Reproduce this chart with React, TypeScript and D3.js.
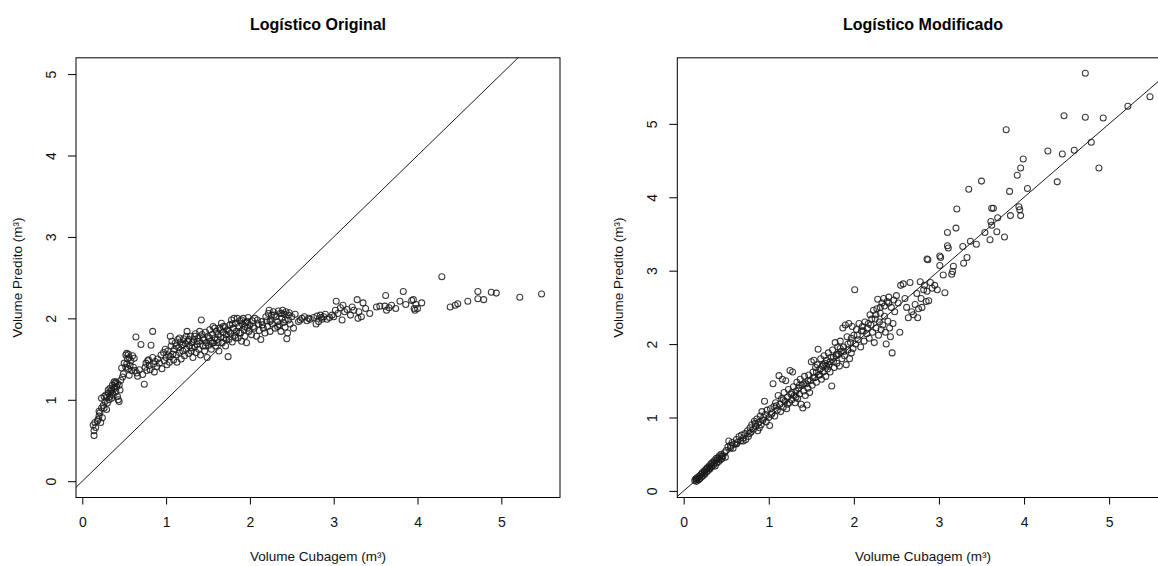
import React, { useRef, useEffect } from 'react';
import { select, scaleLinear, axisBottom, axisLeft, line } from 'd3';

// ticks dos eixos
const xTicks = [0, 1, 2, 3, 4, 5];
const yTicks = [0, 1, 2, 3, 4, 5];

const titulos = ['Logístico Original', 'Logístico Modificado'];
const xLabel = 'Volume Cubagem (m³)';
const yLabel = 'Volume Predito (m³)';

// [volume cubagem, volume predito] - modelo logistico original
const pontosOriginal: [number, number][] = [
  [0.13,0.69],[0.14,0.62],[0.14,0.56],[0.15,0.72],[0.16,0.66],[0.18,0.74],[0.19,0.76],[0.20,0.80],[0.20,0.86],[0.21,0.84],
  [0.22,0.72],[0.23,0.90],[0.23,1.02],[0.24,0.78],[0.25,0.93],[0.26,0.90],[0.26,1.04],[0.27,0.98],[0.28,1.06],[0.29,1.03],
  [0.29,0.88],[0.30,0.96],[0.31,1.08],[0.32,1.00],[0.33,1.14],[0.33,1.04],[0.34,1.10],[0.35,1.12],[0.35,1.02],[0.36,1.18],
  [0.37,1.06],[0.38,1.14],[0.39,1.20],[0.40,1.10],[0.40,1.22],[0.41,1.16],[0.42,1.04],[0.43,1.00],[0.44,1.18],[0.45,1.12],
  [0.46,1.24],[0.44,0.98],[0.47,1.39],[0.48,1.28],[0.49,1.32],[0.31,1.12],[0.36,1.08],[0.38,1.22],[0.42,1.20],
  [0.50,1.45],[0.52,1.40],[0.56,1.52],[0.59,1.36],
  [0.52,1.55],[0.53,1.57],[0.54,1.50],[0.55,1.56],[0.53,1.44],[0.55,1.38],[0.56,1.30],[0.57,1.42],[0.58,1.48],[0.60,1.54],
  [0.61,1.40],[0.62,1.51],[0.63,1.36],[0.64,1.77],[0.65,1.33],[0.66,1.29],[0.68,1.37],[0.70,1.68],[0.72,1.31],[0.74,1.19],
  [0.75,1.40],[0.76,1.45],[0.77,1.36],[0.78,1.48],[0.79,1.49],[0.80,1.42],[0.81,1.37],[0.82,1.67],[0.84,1.84],[0.84,1.52],
  [0.85,1.44],[0.86,1.34],[0.87,1.47],[0.89,1.41],[0.90,1.50],[0.92,1.45],[0.94,1.55],[0.95,1.38],
  [0.97,1.58],[0.98,1.48],[1.00,1.52],[1.01,1.43],[1.02,1.60],[1.04,1.46],[1.05,1.78],[1.05,1.53],[1.06,1.66],[1.08,1.56],
  [1.09,1.49],[1.10,1.62],[1.11,1.70],[1.12,1.55],[1.13,1.46],[1.14,1.74],[1.15,1.64],[1.16,1.58],[1.17,1.71],[1.18,1.50],
  [1.19,1.67],[1.20,1.60],[1.21,1.75],[1.22,1.54],[1.23,1.69],[1.24,1.62],[1.25,1.84],[1.26,1.72],[1.27,1.57],[1.28,1.66],
  [1.29,1.78],[1.30,1.60],[1.31,1.70],[1.32,1.52],[1.33,1.74],[1.34,1.65],[1.35,1.81],[1.36,1.58],[1.37,1.68],[1.38,1.76],
  [1.39,1.62],[1.40,1.72],[1.41,1.55],[1.42,1.98],[1.43,1.80],[1.44,1.66],[1.45,1.74],[1.46,1.60],[1.47,1.83],[1.48,1.70],
  [1.49,1.52],[0.99,1.62],[1.03,1.55],[1.07,1.72],[1.12,1.66],[1.16,1.76],[1.20,1.68],[1.24,1.78],[1.27,1.74],[1.31,1.64],
  [1.34,1.78],[1.37,1.72],[1.40,1.84],[1.44,1.76],[1.47,1.66],
  [1.50,1.78],[1.51,1.67],[1.52,1.86],[1.53,1.72],[1.54,1.62],[1.55,1.80],[1.56,1.90],[1.57,1.70],[1.58,1.76],[1.59,1.66],
  [1.60,1.84],[1.61,1.74],[1.62,1.80],[1.63,1.60],[1.64,1.88],[1.65,1.77],[1.66,1.94],[1.67,1.70],[1.68,1.83],[1.69,1.76],
  [1.70,1.90],[1.71,1.66],[1.72,1.80],[1.73,1.86],[1.74,1.53],[1.75,1.74],[1.76,1.92],[1.77,1.82],[1.78,1.98],[1.79,1.71],
  [1.80,1.88],[1.81,2.00],[1.82,1.79],[1.83,1.94],[1.84,1.84],[1.85,2.00],[1.86,1.76],[1.87,1.90],[1.88,1.97],[1.89,1.82],
  [1.90,1.72],[1.91,1.93],[1.92,2.00],[1.93,1.86],[1.94,1.78],[1.95,1.95],[1.96,1.70],[1.97,1.88],[1.98,2.01],[1.99,1.84],
  [1.52,1.76],[1.55,1.70],[1.58,1.88],[1.62,1.70],[1.65,1.86],[1.68,1.90],[1.72,1.74],[1.75,1.84],[1.79,1.93],[1.83,1.76],
  [1.87,1.82],[1.90,1.98],[1.94,1.90],[1.97,1.96],
  [2.00,1.92],[2.02,1.80],[2.03,1.97],[2.05,1.88],[2.06,2.00],[2.08,1.78],[2.10,1.93],[2.11,1.85],[2.13,1.74],[2.14,1.96],
  [2.16,1.88],[2.18,1.82],[2.20,1.97],[2.21,1.90],[2.22,2.06],[2.23,2.10],[2.24,1.84],[2.25,1.98],[2.26,2.04],[2.27,1.93],
  [2.28,2.08],[2.30,1.88],[2.31,2.02],[2.33,1.96],[2.34,2.09],[2.35,1.92],[2.36,2.06],[2.37,1.84],[2.38,2.00],[2.39,2.10],
  [2.40,1.95],[2.41,2.05],[2.42,1.89],[2.43,2.08],[2.44,1.75],[2.45,1.82],[2.46,1.98],[2.47,2.07],[2.48,1.93],[2.50,2.02],
  [2.52,1.88],[2.54,2.05],[2.04,1.90],[2.09,1.98],[2.15,1.92],[2.19,2.02],[2.24,1.96],[2.29,2.04],[2.33,1.90],[2.38,2.06],
  [2.42,1.98],[2.46,2.04],
  [2.58,1.96],[2.62,2.00],[2.65,2.02],[2.68,1.97],[2.72,1.99],[2.76,2.01],[2.79,1.93],[2.80,2.03],[2.82,1.96],[2.84,2.04],
  [2.86,1.99],[2.88,2.02],[2.90,2.05],[2.92,1.99],[2.95,2.01],[2.98,2.04],[2.60,1.98],[2.70,2.00],[2.85,2.01],
  [3.00,2.02],[3.02,2.10],[3.03,2.21],[3.05,2.06],[3.08,2.13],[3.10,1.98],[3.11,2.16],[3.13,2.08],[3.16,2.11],[3.20,2.04],
  [3.22,2.14],[3.24,2.10],[3.28,2.23],[3.29,2.00],[3.30,2.08],[3.33,2.02],[3.35,2.19],[3.38,2.12],[3.43,2.06],[3.51,2.14],
  [3.55,2.15],[3.61,2.15],[3.62,2.28],[3.63,2.10],[3.66,2.13],[3.69,2.16],[3.74,2.12],[3.79,2.21],[3.83,2.33],[3.86,2.17],
  [3.93,2.22],[3.95,2.23],[3.96,2.12],[3.97,2.10],[3.98,2.17],[4.00,2.12],[4.05,2.19],
  [4.29,2.51],[4.39,2.14],[4.45,2.16],[4.48,2.18],[4.60,2.21],[4.72,2.33],[4.72,2.24],[4.79,2.23],[4.88,2.32],[4.94,2.31],
  [5.22,2.26],[5.48,2.30],
];

// [volume cubagem, volume predito] - modelo logistico modificado
const pontosModificado: [number, number][] = [
  [0.13,0.14],[0.14,0.16],[0.15,0.13],[0.16,0.18],[0.17,0.15],[0.18,0.20],[0.19,0.17],[0.20,0.22],[0.21,0.19],[0.22,0.25],
  [0.23,0.21],[0.24,0.27],[0.25,0.23],[0.26,0.29],[0.27,0.26],[0.28,0.32],[0.29,0.28],[0.30,0.34],[0.31,0.30],[0.32,0.37],
  [0.33,0.33],[0.34,0.39],[0.35,0.35],[0.36,0.41],[0.37,0.34],[0.38,0.44],[0.39,0.38],[0.40,0.45],[0.41,0.40],[0.42,0.48],
  [0.43,0.42],[0.44,0.50],[0.45,0.44],[0.46,0.47],[0.48,0.52],[0.49,0.46],[0.50,0.55],
  [0.15,0.17],[0.18,0.16],[0.21,0.23],[0.24,0.24],[0.27,0.30],[0.30,0.31],[0.33,0.36],[0.36,0.38],[0.39,0.42],[0.42,0.44],
  [0.45,0.48],
  [0.52,0.60],[0.53,0.68],[0.55,0.62],[0.57,0.66],[0.58,0.58],[0.60,0.64],[0.62,0.70],[0.63,0.66],[0.65,0.74],[0.67,0.68],
  [0.68,0.76],[0.70,0.72],[0.72,0.78],[0.73,0.70],[0.75,0.82],[0.76,0.74],[0.78,0.86],[0.79,0.80],[0.80,0.90],[0.82,0.84],
  [0.83,0.95],[0.85,0.88],[0.86,0.98],[0.87,0.82],[0.88,0.93],[0.90,1.02],[0.91,0.90],[0.92,1.08],[0.93,0.96],[0.95,1.22],
  [0.96,1.04],[0.97,0.94],[0.98,1.10],[1.00,1.00],[1.01,0.89],[1.02,1.12],
  [0.55,0.58],[0.62,0.64],[0.70,0.68],[0.77,0.78],[0.84,0.92],[0.89,0.86],[0.94,1.00],
  [1.04,1.06],[1.05,1.46],[1.06,1.15],[1.07,1.02],[1.08,1.20],[1.10,1.10],[1.11,1.30],[1.12,1.57],[1.13,1.18],[1.14,1.08],
  [1.15,1.26],[1.16,1.52],[1.17,1.14],[1.18,1.34],[1.19,1.22],[1.20,1.50],[1.21,1.12],[1.22,1.28],[1.23,1.38],[1.24,1.20],
  [1.25,1.64],[1.26,1.32],[1.27,1.24],[1.28,1.62],[1.29,1.42],[1.30,1.30],[1.31,1.20],[1.32,1.36],[1.33,1.48],[1.34,1.26],
  [1.35,1.40],[1.36,1.32],[1.37,1.52],[1.38,1.18],[1.39,1.44],[1.40,1.13],[1.41,1.36],[1.42,1.56],[1.43,1.30],[1.44,1.46],
  [1.45,1.17],[1.46,1.40],[1.47,1.58],[1.48,1.34],[1.49,1.50],[1.50,1.76],
  [1.03,1.04],[1.09,1.16],[1.17,1.24],[1.22,1.18],[1.27,1.34],[1.32,1.28],[1.36,1.44],[1.41,1.46],[1.46,1.50],
  [1.51,1.44],[1.52,1.62],[1.53,1.78],[1.54,1.54],[1.55,1.68],[1.56,1.48],[1.57,1.72],[1.58,1.93],[1.59,1.58],[1.60,1.66],
  [1.61,1.80],[1.62,1.52],[1.63,1.70],[1.64,1.62],[1.65,1.84],[1.66,1.74],[1.67,1.56],[1.68,1.78],[1.69,1.66],[1.70,1.88],
  [1.71,1.72],[1.72,1.62],[1.73,1.82],[1.74,1.43],[1.75,1.92],[1.76,1.76],[1.77,1.68],[1.78,2.02],[1.79,1.84],[1.80,1.74],
  [1.81,1.96],[1.82,1.86],[1.83,1.70],[1.84,2.04],[1.85,1.90],[1.86,1.80],[1.87,2.22],[1.88,1.96],[1.89,1.84],[1.90,2.26],
  [1.91,1.72],[1.92,2.10],[1.93,1.92],[1.94,2.28],[1.95,1.80],[1.96,2.02],[1.97,1.88],[1.98,2.24],[1.99,1.94],
  [1.52,1.54],[1.56,1.62],[1.60,1.58],[1.64,1.72],[1.68,1.70],[1.72,1.76],[1.76,1.82],[1.80,1.86],[1.84,1.94],[1.88,1.90],
  [1.93,2.00],[1.97,2.08],
  [2.00,2.12],[2.01,2.74],[2.02,2.00],[2.03,2.20],[2.05,2.06],[2.06,2.28],[2.08,1.96],[2.09,2.18],[2.10,2.24],[2.12,2.04],
  [2.13,2.30],[2.15,2.14],[2.16,2.22],[2.18,2.08],[2.19,2.40],[2.20,2.26],[2.22,2.16],[2.23,2.46],[2.24,2.02],[2.25,2.34],
  [2.26,2.22],[2.27,2.48],[2.28,2.61],[2.29,2.12],[2.30,2.30],[2.31,2.42],[2.32,2.20],[2.33,2.56],[2.34,2.26],[2.35,2.62],
  [2.36,2.38],[2.37,2.16],[2.38,2.00],[2.39,2.58],[2.40,2.31],[2.41,2.64],[2.42,2.22],[2.43,2.10],[2.44,2.50],[2.45,1.88],
  [2.46,2.28],[2.47,2.60],[2.48,2.44],[2.50,2.66],[2.52,2.56],
  [2.04,2.12],[2.11,2.18],[2.17,2.28],[2.21,2.34],[2.26,2.40],[2.31,2.50],[2.36,2.52],[2.41,2.56],
  [2.54,2.16],[2.55,2.80],[2.58,2.82],[2.60,2.62],[2.62,2.50],[2.64,2.36],[2.66,2.84],[2.68,2.44],[2.70,2.40],[2.72,2.54],
  [2.74,2.69],[2.75,2.36],[2.76,2.48],[2.78,2.85],[2.79,2.62],[2.80,2.50],[2.82,2.74],[2.83,2.80],[2.85,2.58],[2.86,2.72],
  [2.88,2.59],[2.90,2.84],[2.92,2.76],[2.95,2.80],[2.98,2.74],
  [2.86,3.16],[2.87,3.15],[3.01,3.20],[3.02,3.18],[3.01,3.07],[3.05,2.94],[3.07,2.70],[3.10,3.34],[3.11,3.31],[3.10,3.52],
  [3.15,2.95],[3.16,2.99],[3.17,3.06],[3.20,3.58],[3.21,3.84],[3.28,3.33],[3.29,3.10],[3.33,3.18],[3.35,4.11],[3.37,3.40],
  [3.44,3.36],[3.50,4.22],[3.54,3.52],[3.60,3.42],[3.61,3.67],[3.62,3.62],[3.62,3.85],[3.64,3.85],[3.68,3.53],[3.69,3.72],
  [3.77,3.46],[3.79,4.92],[3.83,4.08],[3.84,3.75],[3.92,4.30],[3.94,3.87],[3.95,3.83],[3.96,3.75],[3.96,4.40],[3.99,4.52],
  [4.04,4.12],
  [4.28,4.63],[4.39,4.21],[4.45,4.59],[4.47,5.11],[4.59,4.64],[4.72,5.69],[4.72,5.09],[4.79,4.75],[4.88,4.40],[4.93,5.08],
  [5.22,5.24],[5.48,5.37],
];

const W = 1158;
const H = 566;
const FONT = '"Liberation Sans", Arial, sans-serif';

const paineis = [
  { pontos: pontosOriginal, box: { left: 76, right: 560, top: 57.8, bottom: 497.5 }, xDom: [-0.075, 5.7], yDom: [-0.2, 5.2] },
  { pontos: pontosModificado, box: { left: 677.3, right: 1168.7, top: 57.8, bottom: 497.5 }, xDom: [-0.075, 5.7], yDom: [-0.09, 5.9] },
];

function App() {
  const svgRef = useRef<SVGSVGElement>(null);

  useEffect(() => {
    const svg = select(svgRef.current);
    svg.selectAll('*').remove();

    paineis.forEach((p, i) => {
      const { box } = p;
      const x = scaleLinear().domain(p.xDom).range([box.left, box.right]);
      const y = scaleLinear().domain(p.yDom).range([box.bottom, box.top]);
      const g = svg.append('g');

      const clipId = `clip-${i}`;
      svg.append('defs').append('clipPath').attr('id', clipId)
        .append('rect')
        .attr('x', box.left).attr('y', box.top)
        .attr('width', box.right - box.left).attr('height', box.bottom - box.top);

      // linha 1:1
      const lim = [p.xDom[0], p.xDom[1]];
      const l = line<number>().x(d => x(d)).y(d => y(d));
      g.append('path')
        .datum(lim)
        .attr('d', l)
        .attr('clip-path', `url(#${clipId})`)
        .attr('fill', 'none')
        .attr('stroke', '#000')
        .attr('stroke-width', 0.9);

      // pontos
      g.append('g')
        .attr('clip-path', `url(#${clipId})`)
        .selectAll('circle')
        .data(p.pontos)
        .join('circle')
        .attr('cx', d => x(d[0]))
        .attr('cy', d => y(d[1]))
        .attr('r', 3)
        .attr('fill', 'none')
        .attr('stroke', '#1a1a1a')
        .attr('stroke-opacity', 0.85)
        .attr('stroke-width', 1.05);

      // caixa
      g.append('rect')
        .attr('x', box.left).attr('y', box.top)
        .attr('width', box.right - box.left).attr('height', box.bottom - box.top)
        .attr('fill', 'none').attr('stroke', '#000').attr('stroke-width', 1);

      // eixo x
      const gx = g.append('g')
        .attr('transform', `translate(0,${box.bottom})`)
        .call(axisBottom(x).tickValues(xTicks).tickSize(7).tickPadding(13).tickFormat(d => String(d)));
      gx.select('.domain').remove();
      gx.selectAll('line').attr('stroke', '#000');
      gx.selectAll('text').attr('font-size', 14).attr('font-family', FONT).attr('fill', '#111');

      // eixo y (rotulos rotacionados como no R)
      const gy = g.append('g')
        .attr('transform', `translate(${box.left},0)`)
        .call(axisLeft(y).tickValues(yTicks).tickSize(8).tickFormat(d => String(d)));
      gy.select('.domain').remove();
      gy.selectAll('line').attr('stroke', '#000');
      gy.selectAll('text')
        .attr('transform', 'rotate(-90)')
        .attr('x', 0)
        .attr('y', -20)
        .attr('dy', 0)
        .style('text-anchor', 'middle')
        .attr('font-size', 14).attr('font-family', FONT).attr('fill', '#111');

      const cx = (box.left + box.right) / 2;
      const cy = (box.top + box.bottom) / 2;

      svg.append('text')
        .attr('x', cx).attr('y', 30)
        .attr('text-anchor', 'middle')
        .style('font-family', FONT).style('font-size', '16px').style('font-weight', 'bold')
        .text(titulos[i]);

      svg.append('text')
        .attr('x', cx).attr('y', 561)
        .attr('text-anchor', 'middle')
        .style('font-family', FONT).style('font-size', '13.5px').style('fill', '#111')
        .text(xLabel);

      svg.append('text')
        .attr('transform', `translate(${box.left - 54},${cy}) rotate(-90)`)
        .attr('text-anchor', 'middle')
        .style('font-family', FONT).style('font-size', '13.5px').style('fill', '#111')
        .text(yLabel);
    });
  }, []);

  return (
    <React.Fragment>
      <style>{'body{margin:0;background:#fff}'}</style>
      <svg ref={svgRef} width={W} height={H} style={{ display: 'block', overflow: 'hidden' }} />
    </React.Fragment>
  );
}

export default App;
